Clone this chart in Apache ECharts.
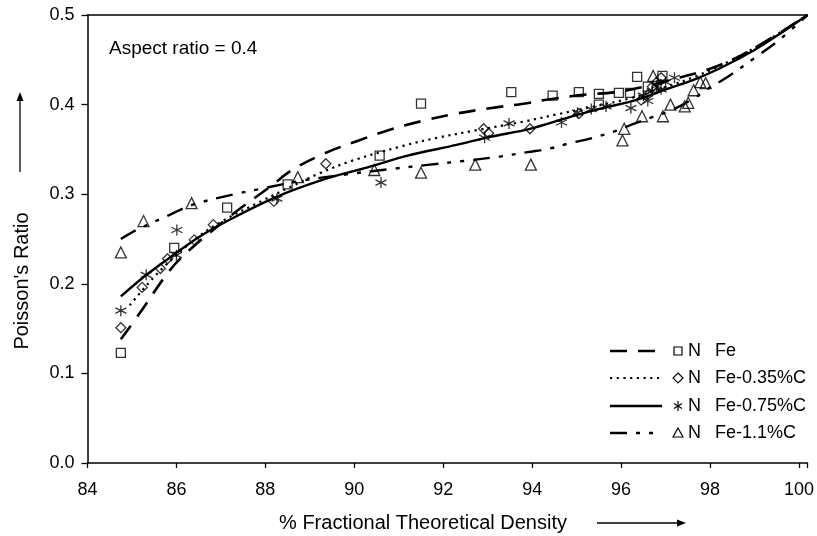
<!DOCTYPE html>
<html><head><meta charset="utf-8">
<script src="https://cdn.jsdelivr.net/npm/echarts@6/dist/echarts.min.js"></script>
<style>html,body{margin:0;padding:0;background:#fff}#c{width:817px;height:536px}</style>
</head><body><div id="c"></div>
<script>
// ---- data (x = % fractional theoretical density, y = Poisson's ratio) ----
const xTicks = [84, 86, 88, 90, 92, 94, 96, 98, 100];
const yTicks = [0.0, 0.1, 0.2, 0.3, 0.4, 0.5];
const seriesNames = ['Fe', 'Fe-0.35%C', 'Fe-0.75%C', 'Fe-1.1%C'];

const fePoints = [[84.75,0.123],[85.95,0.240],[87.14,0.285],[88.5,0.311],[90.57,0.343],[91.5,0.401],
  [93.53,0.414],[94.46,0.410],[95.05,0.414],[95.5,0.412],[95.5,0.400],[95.95,0.413],[96.2,0.413],
  [96.36,0.431],[96.6,0.420],[96.93,0.432]];
const c035Points = [[84.75,0.151],[85.23,0.196],[85.64,0.217],[85.8,0.228],[86.4,0.249],[86.83,0.266],
  [88.19,0.292],[89.36,0.334],[92.91,0.373],[93.02,0.368],[93.95,0.373],[95.05,0.390],
  [96.45,0.405],[96.6,0.411],[96.7,0.420],[96.8,0.425],[96.9,0.430]];
const c075Points = [[84.75,0.170],[85.32,0.210],[86.01,0.260],[86.0,0.232],[88.26,0.295],[90.6,0.313],
  [92.93,0.363],[93.48,0.379],[94.66,0.380],[95.02,0.391],[95.33,0.395],[95.66,0.398],[96.22,0.396],
  [96.5,0.410],[96.6,0.404],[96.7,0.415],[96.8,0.421],[96.9,0.417],[97.0,0.425],[97.2,0.430]];
const c11Points = [[84.75,0.235],[85.26,0.270],[86.34,0.290],[88.73,0.319],[90.45,0.327],[91.5,0.324],
  [92.72,0.333],[93.97,0.333],[96.03,0.360],[96.07,0.373],[96.47,0.387],[96.72,0.432],[96.94,0.387],
  [97.11,0.400],[97.43,0.398],[97.51,0.402],[97.63,0.416],[97.78,0.425],[97.9,0.424]];

const feFit = [[84.75,0.138],[85.2,0.169],[85.85,0.215],[86.3,0.238],[87.3,0.279],[88.1,0.308],[88.6,0.327],
  [89.35,0.346],[90.1,0.360],[90.8,0.372],[91.55,0.382],[92.3,0.390],[93.05,0.396],[93.8,0.401],[94.4,0.406],
  [95.15,0.411],[95.9,0.414],[96.6,0.421],[97.3,0.430],[98.0,0.440],[98.7,0.455],[99.4,0.475],[100.19,0.5]];
const c035Fit = [[84.95,0.176],[85.6,0.213],[86.4,0.249],[87.0,0.269],[87.9,0.292],[88.6,0.309],[89.2,0.323],
  [89.93,0.337],[91.1,0.354],[91.87,0.363],[92.7,0.371],[93.8,0.381],[94.55,0.389],[95.4,0.398],[96.2,0.407],
  [96.9,0.418],[97.7,0.432],[98.5,0.450],[99.3,0.472],[100.19,0.5]];
const c075Fit = [[84.75,0.186],[85.3,0.209],[85.9,0.231],[86.5,0.252],[87.1,0.269],[88.2,0.296],[89.35,0.317],
  [90.3,0.330],[91.2,0.343],[92.3,0.355],[93.05,0.364],[93.95,0.373],[94.84,0.386],[95.58,0.396],[96.33,0.405],
  [97.07,0.418],[97.6,0.427],[98.2,0.440],[99.0,0.461],[99.6,0.480],[100.19,0.5]];
const c11Fit = [[84.75,0.250],[85.1,0.260],[85.85,0.277],[86.35,0.288],[87.3,0.300],[87.9,0.306],[88.8,0.315],
  [89.8,0.322],[90.8,0.328],[91.7,0.333],[92.45,0.337],[93.27,0.342],[93.9,0.347],[94.4,0.351],[94.85,0.357],
  [95.3,0.362],[95.9,0.371],[96.25,0.378],[96.7,0.386],[97.1,0.393],[97.6,0.406],[98.0,0.419],[98.4,0.431],
  [99.0,0.452],[99.6,0.474],[100.19,0.5]];

// ---- styles ----
const FONT = 'Liberation Sans, Arial, sans-serif';
const starPath = 'path://M5,0L5,10M0.67,2.5L9.33,7.5M0.67,7.5L9.33,2.5';
const markerStyle = {color: 'rgba(255,255,255,0)', borderColor: '#000', borderWidth: 1.3};
const fitStyles = [
  {type: [17, 11], width: 2.6},
  {type: [2.2, 4.5], width: 2.2},
  {type: 'solid', width: 2.4},
  {type: [17, 9, 4, 9, 4, 9], width: 2.4}
];
const symbols = ['rect', 'diamond', starPath, 'triangle'];
const symbolSizes = [9, 10, 11, 11];
const pointSets = [fePoints, c035Points, c075Points, c11Points];
const fitSets = [feFit, c035Fit, c075Fit, c11Fit];

const series = [];
fitSets.forEach((d, i) => series.push({
  type: 'line', name: seriesNames[i] + ' fit', data: d, smooth: 0.35, showSymbol: false,
  symbol: 'none', lineStyle: {color: '#000', width: fitStyles[i].width, type: fitStyles[i].type}, z: 2
}));
pointSets.forEach((d, i) => series.push({
  type: 'scatter', name: seriesNames[i], data: d, symbol: symbols[i], symbolSize: symbolSizes[i],
  itemStyle: markerStyle, z: 3
}));

// ---- legend (graphic) ----
const legendRows = [351, 378, 406, 433];
const graphic = [];
legendRows.forEach((y, i) => {
  graphic.push({type: 'line', shape: {x1: 610, y1: y, x2: 662, y2: y},
    style: {stroke: '#000', lineWidth: fitStyles[i].width, lineDash: fitStyles[i].type === 'solid' ? null : fitStyles[i].type}});
  graphic.push({type: 'text', x: 688, y: y, style: {text: 'N', fontSize: 18, fontFamily: FONT, fill: '#000', textVerticalAlign: 'middle'}});
  graphic.push({type: 'text', x: 715, y: y, style: {text: seriesNames[i], fontSize: 18, fontFamily: FONT, fill: '#000', textVerticalAlign: 'middle'}});
});
// legend markers
graphic.push({type: 'rect', shape: {x: 674, y: 347, width: 8, height: 8}, style: {fill: 'none', stroke: '#000', lineWidth: 1.2}});
graphic.push({type: 'polygon', shape: {points: [[678,373],[683,378],[678,383],[673,378]]}, style: {fill: 'none', stroke: '#000', lineWidth: 1.2}});
graphic.push({type: 'polyline', shape: {points: [[678,401],[678,411]]}, style: {stroke: '#000', lineWidth: 1.2}});
graphic.push({type: 'polyline', shape: {points: [[674,403.5],[682,408.5]]}, style: {stroke: '#000', lineWidth: 1.2}});
graphic.push({type: 'polyline', shape: {points: [[674,408.5],[682,403.5]]}, style: {stroke: '#000', lineWidth: 1.2}});
graphic.push({type: 'polygon', shape: {points: [[678,428],[683,437],[673,437]]}, style: {fill: 'none', stroke: '#000', lineWidth: 1.2}});
// annotation
graphic.push({type: 'text', x: 109, y: 49, style: {text: 'Aspect ratio = 0.4', fontSize: 19, fontFamily: FONT, fill: '#000', textVerticalAlign: 'middle'}});
// axis titles and arrows
graphic.push({type: 'text', x: 22, y: 281, rotation: Math.PI / 2,
  style: {text: "Poisson's Ratio", fontSize: 20, fontFamily: FONT, fill: '#000', textAlign: 'center', textVerticalAlign: 'middle'}});
graphic.push({type: 'line', shape: {x1: 20, y1: 172, x2: 20, y2: 100}, style: {stroke: '#000', lineWidth: 1.3}});
graphic.push({type: 'polygon', shape: {points: [[20,92],[16.5,101],[23.5,101]]}, style: {fill: '#000'}});
graphic.push({type: 'text', x: 423, y: 523,
  style: {text: '% Fractional Theoretical Density', fontSize: 20, fontFamily: FONT, fill: '#000', textAlign: 'center', textVerticalAlign: 'middle'}});
graphic.push({type: 'line', shape: {x1: 597, y1: 523, x2: 678, y2: 523}, style: {stroke: '#000', lineWidth: 1.3}});
graphic.push({type: 'polygon', shape: {points: [[686,523],[677,519.5],[677,526.5]]}, style: {fill: '#000'}});

const chart = echarts.init(document.getElementById('c'), null, {renderer: 'canvas'});
chart.setOption({
  animation: false,
  backgroundColor: '#fff',
  grid: {left: 87.5, right: 4, top: 15, bottom: 73, containLabel: false},
  xAxis: [{
    type: 'value', min: xTicks[0], max: 100.19, interval: 2,
    axisLine: {show: true, onZero: false, lineStyle: {color: '#000', width: 1.5}},
    axisTick: {show: true, length: 5, lineStyle: {color: '#000', width: 1.3}},
    axisLabel: {color: '#000', fontSize: 18, fontFamily: FONT, margin: 18,
      formatter: v => xTicks.indexOf(Math.round(v * 100) / 100) >= 0 ? String(v) : ''},
    splitLine: {show: false}
  }, {
    type: 'value', position: 'top', min: xTicks[0], max: 100.19,
    axisLine: {show: true, onZero: false, lineStyle: {color: '#000', width: 1.5}},
    axisTick: {show: false}, axisLabel: {show: false}, splitLine: {show: false}
  }],
  yAxis: {
    type: 'value', min: yTicks[0], max: yTicks[yTicks.length - 1], interval: 0.1,
    axisLine: {show: true, onZero: false, lineStyle: {color: '#000', width: 1.5}},
    axisTick: {show: true, length: 6, lineStyle: {color: '#000', width: 1.3}},
    axisLabel: {color: '#000', fontSize: 18, fontFamily: FONT, margin: 13, formatter: v => v.toFixed(1)},
    splitLine: {show: false}
  },
  series: series,
  graphic: graphic
});
</script></body></html>
